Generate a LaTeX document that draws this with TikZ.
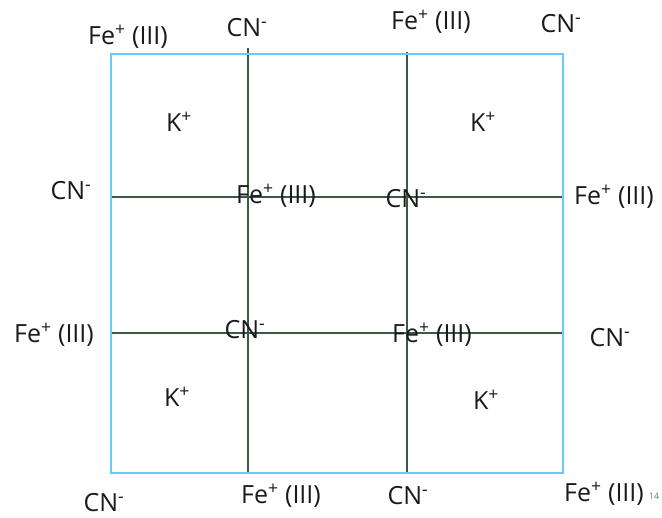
\documentclass[tikz,border=0pt]{standalone}
\usepackage{fontspec}
\setmainfont{Open Sans}
\definecolor{boxblue}{HTML}{66CCF5}
\definecolor{gridgreen}{HTML}{3B5A44}
\definecolor{tinygreen}{HTML}{2EA043}
\definecolor{txt}{HTML}{1A1A1A}
\newcommand{\feiii}{Fe\textsuperscript{+} (III)}
\newcommand{\cnm}{CN\textsuperscript{-}}
\newcommand{\kp}{K\textsuperscript{+}}
\begin{document}
\begin{tikzpicture}[x=1pt,y=-1pt,
  lbl/.style={inner sep=0pt,text=txt,font=\fontsize{25}{28}\selectfont},
  gridline/.style={draw=gridgreen,line width=1.6pt},
  frame/.style={draw=boxblue,line width=1.8pt}]
\useasboundingbox (0,0) rectangle (662,518);
% frame corners
\coordinate (tl) at (111,54);
\coordinate (br) at (563,473);
% grid line endpoints
\coordinate (v1t) at (248,48);
\coordinate (v1b) at (248,473);
\coordinate (v2t) at (407,52);
\coordinate (v2b) at (407,473);
\coordinate (h1l) at (111,197);
\coordinate (h1r) at (563,197);
\coordinate (h2l) at (111,333);
\coordinate (h2r) at (563,333);
\draw[gridline] (v1t) -- (v1b);
\draw[gridline] (v2t) -- (v2b);
\draw[gridline] (h1l) -- (h1r);
\draw[gridline] (h2l) -- (h2r);
\draw[frame] (tl) rectangle (br);
% labels
\node[lbl] (a1) at (128,37) {\feiii};
\node[lbl] (a2) at (247,28) {\cnm};
\node[lbl] (a3) at (431,22) {\feiii};
\node[lbl] (a4) at (561,24) {\cnm};
\node[lbl] (k1) at (179,122) {\kp};
\node[lbl] (k2) at (483,122) {\kp};
\node[lbl] (b1) at (71,191) {\cnm};
\node[lbl] (b2) at (276,196) {\feiii};
\node[lbl] (b3) at (406,199) {\cnm};
\node[lbl] (b4) at (614,197) {\feiii};
\node[lbl] (c1) at (54,335) {\feiii};
\node[lbl] (c2) at (245,330) {\cnm};
\node[lbl] (c3) at (432,335) {\feiii};
\node[lbl] (c4) at (610,338) {\cnm};
\node[lbl] (k3) at (177,397) {\kp};
\node[lbl] (k4) at (486,400) {\kp};
\node[lbl] (d1) at (104,503) {\cnm};
\node[lbl] (d2) at (281,496) {\feiii};
\node[lbl] (d3) at (408,496) {\cnm};
\node[lbl] (d4) at (604,494) {\feiii};
\node[inner sep=0pt,text=tinygreen,font=\fontsize{9}{10}\selectfont] (pg) at (654,496) {14};
\end{tikzpicture}
\end{document}
